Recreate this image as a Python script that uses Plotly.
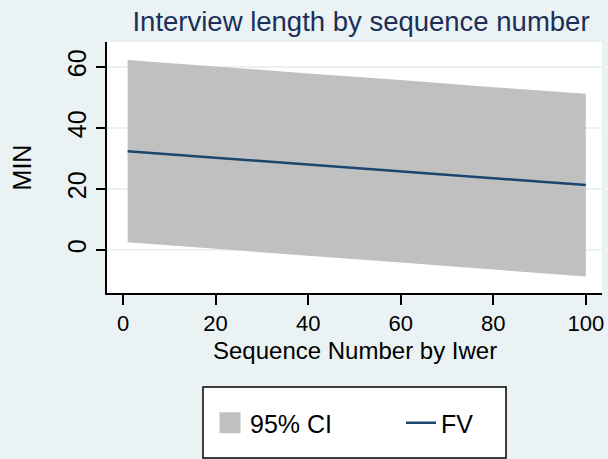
import plotly.graph_objects as go

# Data
seq = [1, 20, 40, 60, 80, 100]
fv = [32.4, 30.3, 28.0, 25.8, 23.5, 21.3]
ci_upper = [62.3, 60.2, 57.9, 55.7, 53.4, 51.2]
ci_lower = [2.5, 0.4, -1.9, -4.1, -6.4, -8.7]

x_ticks = [0, 20, 40, 60, 80, 100]
y_ticks = [0, 20, 40, 60]

FONT = "Liberation Sans, Arial, sans-serif"
BG = "#EAF2F3"
NAVY = "#1A476F"
GRAY = "#C0C0C0"

fig = go.Figure()

# CI band (polygon from upper and reversed lower)
fig.add_trace(go.Scatter(
    x=seq + seq[::-1],
    y=ci_upper + ci_lower[::-1],
    fill="toself", fillcolor=GRAY, mode="none",
    line=dict(width=0), showlegend=False, hoverinfo="skip",
))
# legend proxy for CI
fig.add_trace(go.Scatter(
    x=[None], y=[None], mode="markers", name="95% CI",
    marker=dict(symbol="square", size=16, color=GRAY,
                line=dict(color=GRAY, width=5)),
))
fig.add_trace(go.Scatter(
    x=seq, y=fv, mode="lines", name="FV",
    line=dict(color=NAVY, width=2.5),
))

W, H = 608, 459
L, R, T, B = 107, 6, 42, 166
pw, ph = W - L - R, H - T - B

def px(x):
    return (x - L) / pw

def py(y):
    return (H - B - y) / ph

fig.update_layout(
    width=W, height=H,
    margin=dict(l=L, r=R, t=T, b=B, autoexpand=False),
    paper_bgcolor=BG, plot_bgcolor="white",
    font=dict(family=FONT, color="black"),
    title=dict(text="Interview length by sequence number",
               font=dict(size=27.5, color="#1C2E5A", family=FONT),
               x=361 / W, xanchor="center", xref="container",
               y=(H - 21) / H, yanchor="middle", yref="container"),
    xaxis=dict(range=[-3.46, 103.5], tickvals=x_ticks,
               showgrid=False, zeroline=False,
               showline=True, linecolor="black", linewidth=2,
               ticks="outside", ticklen=10, tickwidth=2, tickcolor="black",
               tickfont=dict(size=22), ticklabelstandoff=0),
    yaxis=dict(range=[-14.1, 68.2], tickvals=y_ticks,
               showgrid=True, gridcolor=BG, gridwidth=2, zeroline=False,
               showline=True, linecolor="black", linewidth=2,
               ticks="outside", ticklen=9, tickwidth=2, tickcolor="black",
               tickangle=-90, tickfont=dict(size=25), ticklabelstandoff=0,
               title=dict(text="MIN", font=dict(size=25), standoff=24)),
    annotations=[dict(text="Sequence Number by Iwer", xref="paper", yref="paper",
                      x=0.5, xanchor="center", y=py(350), yanchor="middle",
                      showarrow=False, font=dict(size=24))],
    legend=dict(orientation="h", x=px(210), xanchor="left",
                y=py(423), yanchor="middle",
                bgcolor="rgba(0,0,0,0)", borderwidth=0,
                font=dict(size=25), itemwidth=30, entrywidth=146,
                entrywidthmode="pixels"),
    shapes=[dict(type="rect", xref="paper", yref="paper",
                 x0=px(203), x1=px(506), y0=py(387), y1=py(458),
                 line=dict(color="black", width=1.5), fillcolor="white",
                 layer="below")],
)

fig.write_html("out.html", config={"displayModeBar": False},
               post_script="document.body.style.margin='0';")
